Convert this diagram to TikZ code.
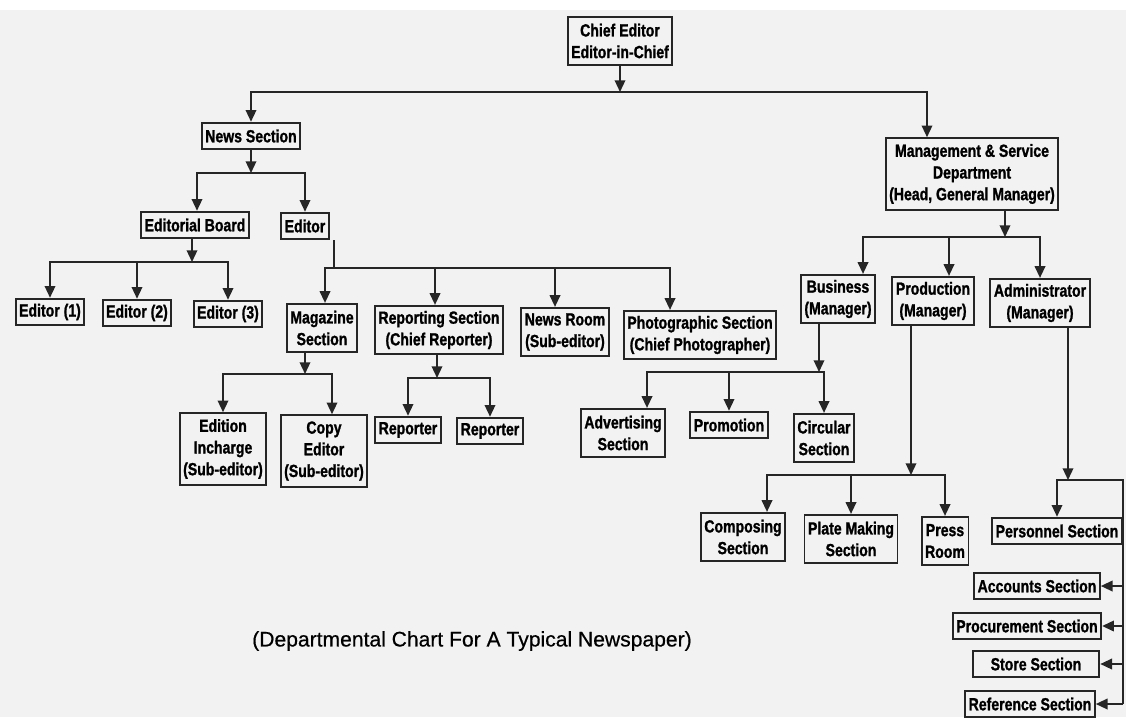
\documentclass[tikz,border=0pt]{standalone}
\usepackage{fontspec}
\setmainfont{Liberation Sans}[FakeStretch=0.8, BoldFeatures={FakeBold=1.2}]
\newfontfamily\capfont{Liberation Sans}[FakeBold=0.6]
\usetikzlibrary{arrows.meta}

\begin{document}
\begin{tikzpicture}[x=0.03cm, y=-0.03cm,
  box/.style={draw=black!85, line width=1.6pt, align=center, inner xsep=3pt, inner ysep=2pt,
    minimum height=0.8cm, font=\fontsize{15}{18.5}\selectfont\bfseries},
  twoline/.style={minimum height=1.45cm},
  threeline/.style={minimum height=2.15cm},
  arr/.style={draw=black!85, line width=1.5pt, -{Triangle[length=10pt, width=9pt]}},
  line/.style={draw=black!85, line width=1.5pt}]
\useasboundingbox (0,0) rectangle (1126,717);
\fill[black!5] (0,10) rectangle (1126,717);
% top level
\node[box, twoline] (chief) at (620,41) {Chief Editor\\Editor-in-Chief};
\node[box] (news) at (251,136) {News Section};
\node[box, threeline] (mgmt) at (972,174) {Management \& Service\\Department\\(Head, General Manager)};
% news section
\node[box] (board) at (195,225) {Editorial Board};
\node[box] (editor) at (305,226) {Editor};
\node[box] (ed1) at (50,312) {Editor (1)};
\node[box] (ed2) at (137,313) {Editor (2)};
\node[box] (ed3) at (228,314) {Editor (3)};
\node[box, twoline] (mag) at (322,328) {Magazine\\Section};
\node[box, twoline] (rep) at (439,330) {Reporting Section\\(Chief Reporter)};
\node[box, twoline] (room) at (565,332) {News Room\\(Sub-editor)};
\node[box, twoline] (photo) at (700,335) {Photographic Section\\(Chief Photographer)};
\node[box, threeline] (edition) at (223,449) {Edition\\Incharge\\(Sub-editor)};
\node[box, threeline] (copy) at (324,451) {Copy\\Editor\\(Sub-editor)};
\node[box] (rep1) at (408,430) {Reporter};
\node[box] (rep2) at (490,431) {Reporter};
% management side
\node[box, twoline] (biz) at (838,299) {Business\\(Manager)};
\node[box, twoline] (prod) at (933,301) {Production\\(Manager)};
\node[box, twoline] (admin) at (1040,303) {Administrator\\(Manager)};
\node[box, twoline] (adv) at (623,433) {Advertising\\Section};
\node[box] (promo) at (729,425) {Promotion};
\node[box, twoline] (circ) at (824,438) {Circular\\Section};
\node[box, twoline] (comp) at (743,537) {Composing\\Section};
\node[box, twoline] (plate) at (851,539) {Plate Making\\Section};
\node[box, twoline] (press) at (945,541) {Press\\Room};
\node[box, minimum width=3.75cm] (pers) at (1057,531) {Personnel Section};
\node[box] (acc) at (1037,586) {Accounts Section};
\node[box] (proc) at (1027,626) {Procurement Section};
\node[box, minimum width=3.8cm] (store) at (1036,664) {Store Section};
\node[box] (ref) at (1030,704) {Reference Section};
\node[font=\capfont\fontsize{18}{22}\selectfont] (caption) at (472,641) {(Departmental Chart For A Typical Newspaper)};
% junctions
\coordinate (jc) at (620,92);
\coordinate (jn) at (251,173);
\coordinate (jb) at (192,262);
\coordinate (je) at (334,268);
\coordinate (jmag) at (305,374);
\coordinate (jrep) at (437,378);
\coordinate (jm) at (1005,237);
\coordinate (jbiz) at (819,372);
\coordinate (jprod) at (911,475);
\coordinate (jadm) at (1068,480);
\coordinate (rail) at (1123,480);
% connectors
\draw[arr] (chief) -- (jc);
\draw[arr] (jc) -| (news);
\draw[arr] (jc) -| (mgmt.north -| 927,0);
\draw[arr] (news) -- (jn);
\draw[arr] (jn) -| (board.north -| 197,0);
\draw[arr] (jn) -| (editor);
\draw[arr] (board.south -| jb) -- (jb);
\draw[arr] (jb) -| (ed1);
\draw[arr] (jb) -| (ed2);
\draw[arr] (jb) -| (ed3);
\draw[line] (editor.south -| je) -- (je);
\draw[arr] (je) -| (mag.north -| 325,0);
\draw[arr] (je) -| (rep.north -| 435,0);
\draw[arr] (je) -| (room.north -| 555,0);
\draw[arr] (je) -| (photo.north -| 670,0);
\draw[arr] (mag.south -| jmag) -- (jmag);
\draw[arr] (jmag) -| (edition);
\draw[arr] (jmag) -| (copy.north -| 332,0);
\draw[arr] (rep.south -| jrep) -- (jrep);
\draw[arr] (jrep) -| (rep1);
\draw[arr] (jrep) -| (rep2);
\draw[arr] (mgmt.south -| jm) -- (jm);
\draw[arr] (jm) -| (biz.north -| 863,0);
\draw[arr] (jm) -| (prod.north -| 949,0);
\draw[arr] (jm) -| (admin);
\draw[arr] (biz.south -| jbiz) -- (jbiz);
\draw[arr] (jbiz) -| (adv.north -| 647,0);
\draw[arr] (jbiz) -| (promo);
\draw[arr] (jbiz) -| (circ);
\draw[arr] (prod.south -| jprod) -- (jprod);
\draw[arr] (jprod) -| (comp.north -| 767,0);
\draw[arr] (jprod) -| (plate);
\draw[arr] (jprod) -| (press);
\draw[arr] (admin.south -| jadm) -- (jadm);
\draw[arr] (jadm) -| (pers);
\draw[line] (jadm) -- (rail) -- (rail |- ref.east);
\foreach \n in {acc,proc,store,ref}
  \draw[arr] (rail |- \n.east) -- (\n.east);
\end{tikzpicture}
\end{document}
